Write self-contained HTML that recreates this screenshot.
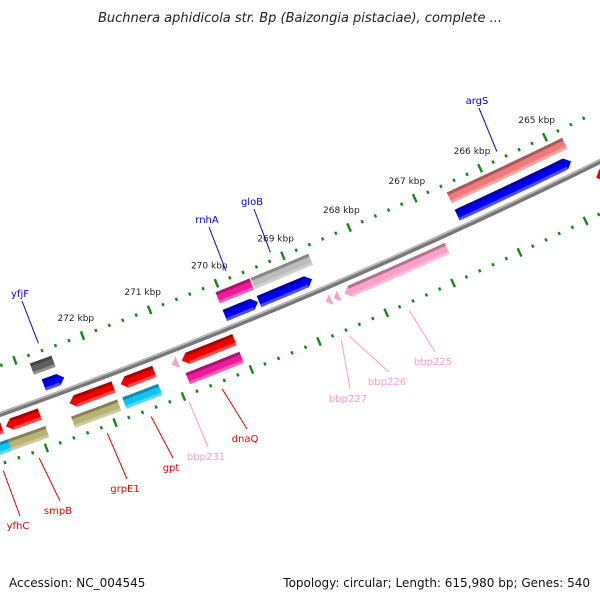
<!DOCTYPE html>
<html><head><meta charset="utf-8"><style>
html,body{margin:0;padding:0;background:#fff;}
svg{display:block;font-family:"DejaVu Sans","Liberation Sans",sans-serif;}
</style></head><body>
<svg id="map" width="600" height="600" viewBox="0 0 600 600">
<text x="300" y="22" text-anchor="middle" font-size="13" font-style="italic" fill="#222">Buchnera aphidicola str. Bp (Baizongia pistaciae), complete ...</text>
<g id="plot"></g>
<text x="9" y="587" font-size="12" fill="#111">Accession: NC_004545</text>
<text x="590" y="587" font-size="12" fill="#111" text-anchor="end">Topology: circular; Length: 615,980 bp; Genes: 540</text>
</svg>
<script>
const featNames=["argS","argS-b","gloB","gloB-b","rnhA","rnhA-b","yfjF","yfjF-b","dnaQ","dnaQ-b","gpt","gpt-b","grpE1","grpE1-b","smpB","smpB-b","yfhC","yfhC-b","bbp231","bbp227a","bbp227b","bbp226","right-red"];
const featStart=[264820,264790,268754,268664,269565,269550,272440,272500,270060,270060,271246,271261,271847,271862,272928,272913,273480,273460,270900,268620,268500,266877,263800];
const featEnd=[266562,266562,269550,269535,270060,270060,272740,272820,270841,270856,271742,271787,272492,272537,273423,273468,273700,273700,270990,268700,268580,268423,264610];
const featTrack=[0,1,0,1,0,1,0,1,2,3,2,3,2,3,2,3,2,3,2,2,2,2,2];
const featDir=[-1,0,-1,0,-1,0,-1,0,1,0,1,0,1,0,1,0,1,0,1,1,1,1,1];
const featColor=["#0000ee","#ee7b7b","#0000ee","#bcbcbc","#0000ee","#ee1a9a","#0000ee","#5f5f5f","#ee0000","#ee1a9a","#ee0000","#10c4f0","#ee0000","#b8b478","#ee0000","#b8b478","#ee0000","#10c4f0","#f8a0c8","#f8a0c8","#f8a0c8","#f8a0c8","#ee0000"];
const tickStart=264400, tickEnd=273800, tickStep=200, majorStep=1000;
const tickLabels=["265 kbp","266 kbp","267 kbp","268 kbp","269 kbp","270 kbp","271 kbp","272 kbp"];
const tickLabelBp=[265000,266000,267000,268000,269000,270000,271000,272000];
const lblText=["argS","gloB","rnhA","yfjF","bbp225","bbp226","bbp227","bbp231","dnaQ","gpt","grpE1","smpB","yfhC"];
const lblBp=[265690,269143,269813,272612,267700,268590,268710,270955,270470,271510,272150,273140,273660];
const lblSide=[-1,-1,-1,-1,1,1,1,1,1,1,1,1,1];
const lblColor=["#0000ff","#0000ff","#0000ff","#0000ff","#ff99cc","#ff99cc","#ff99cc","#ff99cc","#ee0000","#ee0000","#ee0000","#ee0000","#ee0000"];
const lblXY=[[477,100],[252,201],[207,219],[20,293],[433,361],[387,381],[348,398],[206,456],[245,438],[171,467],[125,488],[58,510],[18,525]];

const CX=-1818, CY=-4735, R0=5461;
const trackOff=[-13,-32,13,32], TH=12;
function phi(bp){return (66.41+(bp-268000)*0.000761)*Math.PI/180;}
function pt(bp,r){const a=phi(bp);return [CX+r*Math.cos(a),CY+r*Math.sin(a)];}
const NS="http://www.w3.org/2000/svg";
const plot=document.getElementById('plot');
function mk(tag,attrs){const e=document.createElementNS(NS,tag);for(const k in attrs)e.setAttribute(k,attrs[k]);return e;}
function arcPts(a,b,r,n){const p=[];for(let i=0;i<=n;i++){p.push(pt(a+(b-a)*i/n,r));}return p;}
function polyStr(p){return p.map(q=>q[0].toFixed(1)+","+q[1].toFixed(1)).join(" ");}

const bb=arcPts(263000,275000,R0,60);
const bbPath="M"+bb.map(q=>q[0].toFixed(1)+" "+q[1].toFixed(1)).join(" L");
const back=mk('path',{d:bbPath,stroke:'#777',"stroke-width":5,fill:'none'});


plot.appendChild(back);
const back2=mk('path',{d:bbPath,stroke:'#bbb',"stroke-width":1.5,fill:'none',transform:'translate(-0.6,-1.4)'});


plot.appendChild(back2);

for(let bp=tickStart;bp<=tickEnd;bp+=tickStep){
  const major=(bp%majorStep===0);
  const len=major?4.5:1.6;
  [-46,47].forEach(off=>{
    const p1=pt(bp,R0+off-len),p2=pt(bp,R0+off+len);
    const t=mk('line',{x1:p1[0],y1:p1[1],x2:p2[0],y2:p2[1],stroke:'#138a13',"stroke-width":2.4});
    
    
    plot.appendChild(t);
  });
}
tickLabelBp.forEach((bp,i)=>{
  const p=pt(bp,R0-46-19);
  const t=mk('text',{x:p[0].toFixed(1),y:(p[1]+3).toFixed(1),"font-size":9,"text-anchor":'middle',fill:'#222'});
  t.textContent=tickLabels[i];
  
  
  plot.appendChild(t);
});

const TIP=85;
featStart.forEach((s,i)=>{
  const e=featEnd[i],r=R0+trackOff[featTrack[i]],d=featDir[i];
  let a=Math.min(s,e),b=Math.max(s,e);
  let ba=a,bb2=b;
  if(d===1)bb2=Math.max(a,b-TIP);
  if(d===-1)ba=Math.min(b,a+TIP);
  const ri=r-TH/2,ro=r+TH/2;
  let pts=arcPts(ba,bb2,ri,12);
  if(d===1)pts.push(pt(b,r));
  pts=pts.concat(arcPts(bb2,ba,ro,12));
  if(d===-1)pts.push(pt(a,r));
  const g=mk('g',{});
  
  
  g.appendChild(mk('polygon',{points:polyStr(pts),fill:featColor[i]}));
  if(bb2-ba>40){
    const top=arcPts(ba,bb2,ri,12).concat(arcPts(bb2,ba,ri+3,12));
    g.appendChild(mk('polygon',{points:polyStr(top),fill:'#000',"fill-opacity":0.28}));
    const bot=arcPts(ba,bb2,ro-3,12).concat(arcPts(bb2,ba,ro,12));
    g.appendChild(mk('polygon',{points:polyStr(bot),fill:'#fff',"fill-opacity":0.3}));
  }
  plot.appendChild(g);
});

lblText.forEach((txt,i)=>{
  const side=lblSide[i];
  const p1=pt(lblBp[i],R0+side*54);
  const xy=lblXY[i];
  const ly=side<0?xy[1]+8:xy[1]-9;
  const ln=mk('line',{x1:p1[0].toFixed(1),y1:p1[1].toFixed(1),x2:xy[0]+2,y2:ly,stroke:lblColor[i],"stroke-width":1});
  
  
  plot.appendChild(ln);
  const t=mk('text',{x:xy[0],y:xy[1]+4,"font-size":10,"text-anchor":'middle',fill:lblColor[i]});
  t.textContent=txt;
  
  
  plot.appendChild(t);
});
</script>
</body></html>
